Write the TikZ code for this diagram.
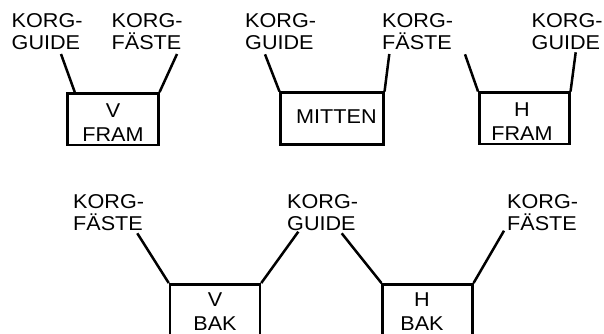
\documentclass[tikz,border=0pt]{standalone}
\usepackage{fontspec}
\setmainfont{Liberation Sans}[FakeStretch=1.08]
\begin{document}
\begin{tikzpicture}[x=1pt,y=-1pt,
  lbl/.style={anchor=north west, inner sep=0pt, align=left, font=\fontsize{20}{22.6}\selectfont},
  boxtxt/.style={anchor=north, inner sep=0pt, align=center, font=\fontsize{20}{23.5}\selectfont},
  box/.style={draw, line width=2.5pt, rectangle, inner sep=0pt},
  con/.style={line width=2.5pt}]
\useasboundingbox (0,0) rectangle (604,333);
\clip (0,0) rectangle (604,333);
\fill[white] (0,0) rectangle (604,333);
% labels
\node[lbl] (l1) at (11.5,13) {KORG-\\GUIDE};
\node[lbl] (l2) at (111.5,13) {KORG-\\FÄSTE};
\node[lbl] (l3) at (245,13) {KORG-\\GUIDE};
\node[lbl] (l4) at (382,13) {KORG-\\FÄSTE};
\node[lbl] (l5) at (531.5,13) {KORG-\\GUIDE};
\node[lbl] (l6) at (73,194) {KORG-\\FÄSTE};
\node[lbl] (l7) at (287,194) {KORG-\\GUIDE};
\node[lbl] (l8) at (507,194) {KORG-\\FÄSTE};
% boxes
\node[box, minimum width=91pt, minimum height=51.7pt] (b1) at (112.8,119.2) {};
\node[box, minimum width=102.6pt, minimum height=51.6pt] (b2) at (332,118.5) {};
\node[box, minimum width=90pt, minimum height=51.3pt] (b3) at (524.3,118.35) {};
\node[box, minimum width=90pt, minimum height=75.7pt] (b4) at (215,322.15) {};
\node[box, minimum width=89.6pt, minimum height=75.7pt] (b5) at (427.5,322.15) {};
% box texts
\node[boxtxt] (t1) at (113,103.7) {V\\FRAM};
\node[inner sep=0pt, anchor=base west, font=\fontsize{20}{23.5}\selectfont] (t2) at (296,123.3) {MITTEN};
\node[boxtxt] (t3) at (522,103) {H\\FRAM};
\node[boxtxt] (t4) at (215,293) {V\\BAK};
\node[boxtxt] (t5) at (422,293) {H\\BAK};
% connector free ends
\coordinate (e1) at (61,54);
\coordinate (e2) at (177,54);
\coordinate (e3) at (265,54.3);
\coordinate (e4) at (389.3,54);
\coordinate (e5) at (465,54.3);
\coordinate (e6) at (575.7,52.3);
\coordinate (e7) at (137.3,233.3);
\coordinate (e8) at (298.3,231.7);
\coordinate (e9) at (341.7,233.3);
\coordinate (e10) at (504,230.7);
\coordinate (b1in) at ([xshift=8.7pt]b1.north west);
% connectors
\draw[con] (e1) -- (b1in);
\draw[con] (e2) -- (b1.north east);
\draw[con] (e3) -- (b2.north west);
\draw[con] (e4) -- (b2.north east);
\draw[con] (e5) -- (b3.north west);
\draw[con] (e6) -- (b3.north east);
\draw[con] (e7) -- (b4.north west);
\draw[con] (e8) -- (b4.north east);
\draw[con] (e9) -- (b5.north west);
\draw[con] (e10) -- (b5.north east);
\end{tikzpicture}
\end{document}
